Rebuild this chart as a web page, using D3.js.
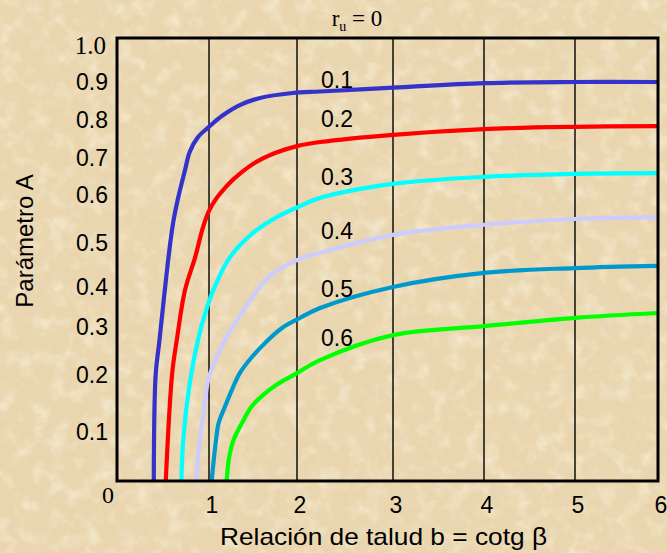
<!DOCTYPE html>
<html><head><meta charset="utf-8">
<script src="https://cdn.jsdelivr.net/npm/d3@7"></script>
<style>body{margin:0;background:#ecd9b2;}svg{display:block;}</style>
</head><body>
<script>
// ---- data ----
const xTicks = [1, 2, 3, 4, 5, 6];
const yTicks = [0.1, 0.2, 0.3, 0.4, 0.5, 0.6, 0.7, 0.8, 0.9, 1.0];
const seriesNames = ["0.1", "0.2", "0.3", "0.4", "0.5", "0.6"];
const seriesColors = ["#3333cc", "#ff0000", "#00ffff", "#ccccff", "#0099cc", "#00ff00"];
const x01 = [0.40,0.42,0.46,0.565,0.61,0.66,0.74,0.79,0.88,1.0,1.15,1.35,1.58,1.95,2.24,3.0,4.0,5.0,6.0];
const y01 = [0,0.20,0.27,0.477,0.542,0.59,0.668,0.716,0.755,0.782,0.811,0.839,0.858,0.871,0.875,0.885,0.897,0.90,0.90];
const x02 = [0.53,0.60,0.65,0.74,0.85,0.935,1.0,1.08,1.17,1.27,1.5,1.75,2.01,2.24,3.0,4.0,5.0,6.0];
const y02 = [0,0.204,0.273,0.393,0.468,0.533,0.567,0.592,0.616,0.641,0.684,0.713,0.732,0.742,0.761,0.776,0.782,0.784];
const x03 = [0.70,0.72,0.78,0.88,0.98,1.05,1.24,1.5,1.77,2.01,2.24,3.0,4.0,5.0,6.0];
const y03 = [0,0.084,0.174,0.273,0.35,0.393,0.468,0.521,0.554,0.575,0.594,0.630,0.649,0.657,0.659];
const x04 = [0.86,0.90,0.95,0.99,1.09,1.18,1.30,1.47,1.66,1.84,2.03,2.24,3.0,4.0,5.0,6.0];
const y04 = [0,0.084,0.144,0.191,0.238,0.273,0.31,0.368,0.42,0.445,0.464,0.478,0.517,0.538,0.55,0.554];
const x05 = [1.03,1.08,1.11,1.18,1.26,1.35,1.49,1.66,1.83,2.03,2.24,3.0,4.0,5.0,6.0];
const y05 = [0,0.084,0.116,0.144,0.174,0.204,0.238,0.271,0.298,0.3225,0.3475,0.40,0.432,0.443,0.448];
const x06 = [1.2,1.23,1.28,1.375,1.48,1.60,1.78,2.0,2.24,3.0,4.0,5.0,6.0];
const y06 = [0,0.049,0.084,0.116,0.144,0.163,0.184,0.204,0.231,0.283,0.302,0.323,0.335];
const seriesX = [x01, x02, x03, x04, x05, x06];
const seriesY = [y01, y02, y03, y04, y05, y06];
const labelPos = [[2.25,0.905],[2.25,0.803],[2.25,0.649],[2.25,0.525],[2.25,0.395],[2.25,0.277]];

// ---- layout ----
const W = 667, H = 553;
const svg = d3.select("body").append("svg").attr("width", W).attr("height", H);

const x = d3.scaleLinear().domain([0,1,2,3,4,5,6]).range([117,209,297,393,484,575,658]);
const y = d3.scaleLinear().domain([0,0.1,0.2,0.3,0.4,0.5,0.6,0.7,0.8,0.9,1.0])
  .range([481,432,375,327,287,243,195,158,120,82,45]);
const frameTop = 38;

// background texture
const defs = svg.append("defs");
const f = defs.append("filter").attr("id","paper").attr("x",0).attr("y",0).attr("width","100%").attr("height","100%");
f.append("feTurbulence").attr("type","fractalNoise").attr("baseFrequency","0.06").attr("numOctaves",4).attr("seed",7).attr("result","n");
f.append("feColorMatrix").attr("in","n").attr("type","matrix")
  .attr("values","0 0 0 0 0.99  0 0 0 0 0.94  0 0 0 0 0.80  1.3 0 0 0 -0.62");
const f2 = defs.append("filter").attr("id","paper2").attr("x",0).attr("y",0).attr("width","100%").attr("height","100%");
f2.append("feTurbulence").attr("type","fractalNoise").attr("baseFrequency","0.1").attr("numOctaves",3).attr("seed",19).attr("result","n");
f2.append("feColorMatrix").attr("in","n").attr("type","matrix")
  .attr("values","0 0 0 0 0.78  0 0 0 0 0.68  0 0 0 0 0.50  0 1.2 0 0 -0.55");

svg.append("rect").attr("width",W).attr("height",H).attr("fill","#ead6ae");
svg.append("rect").attr("width",W).attr("height",H).attr("filter","url(#paper)");
svg.append("rect").attr("width",W).attr("height",H).attr("filter","url(#paper2)");

// gridlines
svg.append("g").selectAll("line").data(xTicks.slice(0,5)).join("line")
  .attr("x1", d => x(d)).attr("x2", d => x(d))
  .attr("y1", frameTop).attr("y2", y(0))
  .attr("stroke","#000").attr("stroke-width",1.4);

// curves
const line = d3.line().x(d => x(d[0])).y(d => y(d[1])).curve(d3.curveCatmullRom.alpha(0.5));
seriesNames.forEach((n,i) => {
  const pts = seriesX[i].map((v,j) => [v, seriesY[i][j]]);
  svg.append("path").attr("d", line(pts)).attr("fill","none")
    .attr("stroke", seriesColors[i]).attr("stroke-width",4.2)
    .attr("stroke-linejoin","round");
});

// frame
svg.append("rect").attr("x", x(0)).attr("y", frameTop)
  .attr("width", x(6) - x(0)).attr("height", y(0) - frameTop)
  .attr("fill","none").attr("stroke","#000").attr("stroke-width",3);

// curve labels
svg.append("g").selectAll("text").data(seriesNames).join("text")
  .attr("x", (d,i) => x(labelPos[i][0])).attr("y", (d,i) => y(labelPos[i][1]))
  .attr("dy","0.35em")
  .attr("font-family","'Liberation Sans', Arial, sans-serif").attr("font-size",23)
  .attr("fill","#000").text(d => d);

// y tick labels
svg.append("g").selectAll("text").data(yTicks).join("text")
  .attr("x", d => d === 1.0 ? 106 : 108).attr("y", d => y(d))
  .attr("dy","0.35em").attr("text-anchor","end")
  .attr("font-family", d => d === 1.0 ? "'Liberation Serif', 'Times New Roman', serif" : "'Liberation Sans', Arial, sans-serif")
  .attr("font-size", d => d === 1.0 ? 25 : 23)
  .attr("fill","#000").text(d => d.toFixed(1));

// x tick labels
svg.append("g").selectAll("text").data(xTicks).join("text")
  .attr("x", d => x(d) + 3).attr("y", 513)
  .attr("text-anchor","middle")
  .attr("font-family","'Liberation Sans', Arial, sans-serif").attr("font-size",23)
  .attr("fill","#000").text(d => d);

// corner zero
svg.append("text").attr("x", x(0) - 9).attr("y", 503).attr("text-anchor","middle")
  .attr("font-family","'Liberation Serif', 'Times New Roman', serif").attr("font-size",24)
  .attr("fill","#000").text("0");

// axis titles
svg.append("text").attr("x", 220).attr("y", 545)
  .attr("textLength", 327).attr("lengthAdjust","spacingAndGlyphs")
  .attr("font-family","'Liberation Sans', Arial, sans-serif").attr("font-size",24)
  .attr("fill","#000").text("Relación de talud b = cotg β");
svg.append("text").attr("transform","translate(33,241) rotate(-90)").attr("text-anchor","middle")
  .attr("font-family","'Liberation Sans', Arial, sans-serif").attr("font-size",24)
  .attr("fill","#000").text("Parámetro A");

// title r_u = 0
const t = svg.append("text").attr("x", 357).attr("y", 26).attr("text-anchor","middle")
  .attr("font-family","'Liberation Serif', 'Times New Roman', serif").attr("font-size",23).attr("fill","#000");
t.append("tspan").text("r");
t.append("tspan").attr("font-size",14).attr("dy",5).text("u");
t.append("tspan").attr("dy",-5).text(" = 0");
</script>
</body></html>
